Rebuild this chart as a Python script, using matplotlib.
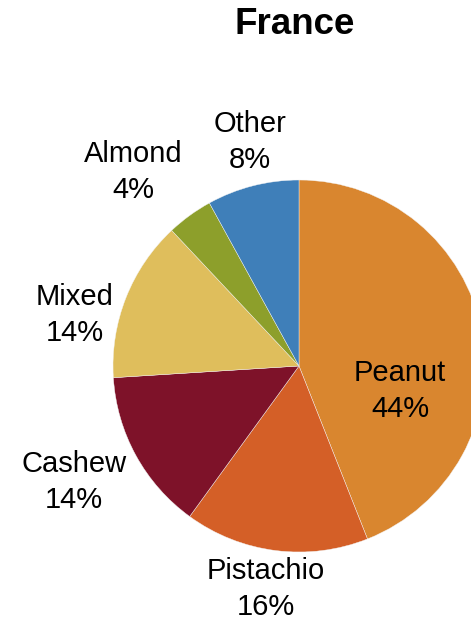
import matplotlib
matplotlib.use('Agg')
import matplotlib.pyplot as plt

plt.rcParams['font.family'] = ['Liberation Sans', 'DejaVu Sans']

labels = ['Peanut', 'Pistachio', 'Cashew', 'Mixed', 'Almond', 'Other']
values = [44, 16, 14, 14, 4, 8]
colors = ['#D9862F', '#D45F27', '#7E1229', '#DFBE5C', '#8D9F2B', '#3F7FB9']

# label centres in pixel coords (x from left, y from top)
label_pos = [(400, 391), (266, 589), (74, 482), (75, 315), (133, 172), (250, 142)]

W, H = 471, 620
fig = plt.figure(figsize=(W / 100, H / 100), dpi=100)
ax = fig.add_axes([0, 0, 1, 1])

ax.pie(values, colors=colors, startangle=90, counterclock=False,
       center=(299, H - 366), radius=186,
       wedgeprops=dict(edgecolor='#f4f4f4', linewidth=0.3))

for lab, v, (x, y) in zip(labels, values, label_pos):
    ax.text(x, H - y, f'{lab}\n{v}%', ha='center', va='center',
            fontsize=21, linespacing=1.38, color='black')

ax.text(295, H - 25, 'France', ha='center', va='center',
        fontsize=26.5, fontweight='bold')

ax.set_xlim(0, W)
ax.set_ylim(0, H)
ax.set_aspect('equal')
ax.axis('off')

fig.savefig('out.png', dpi=100)
